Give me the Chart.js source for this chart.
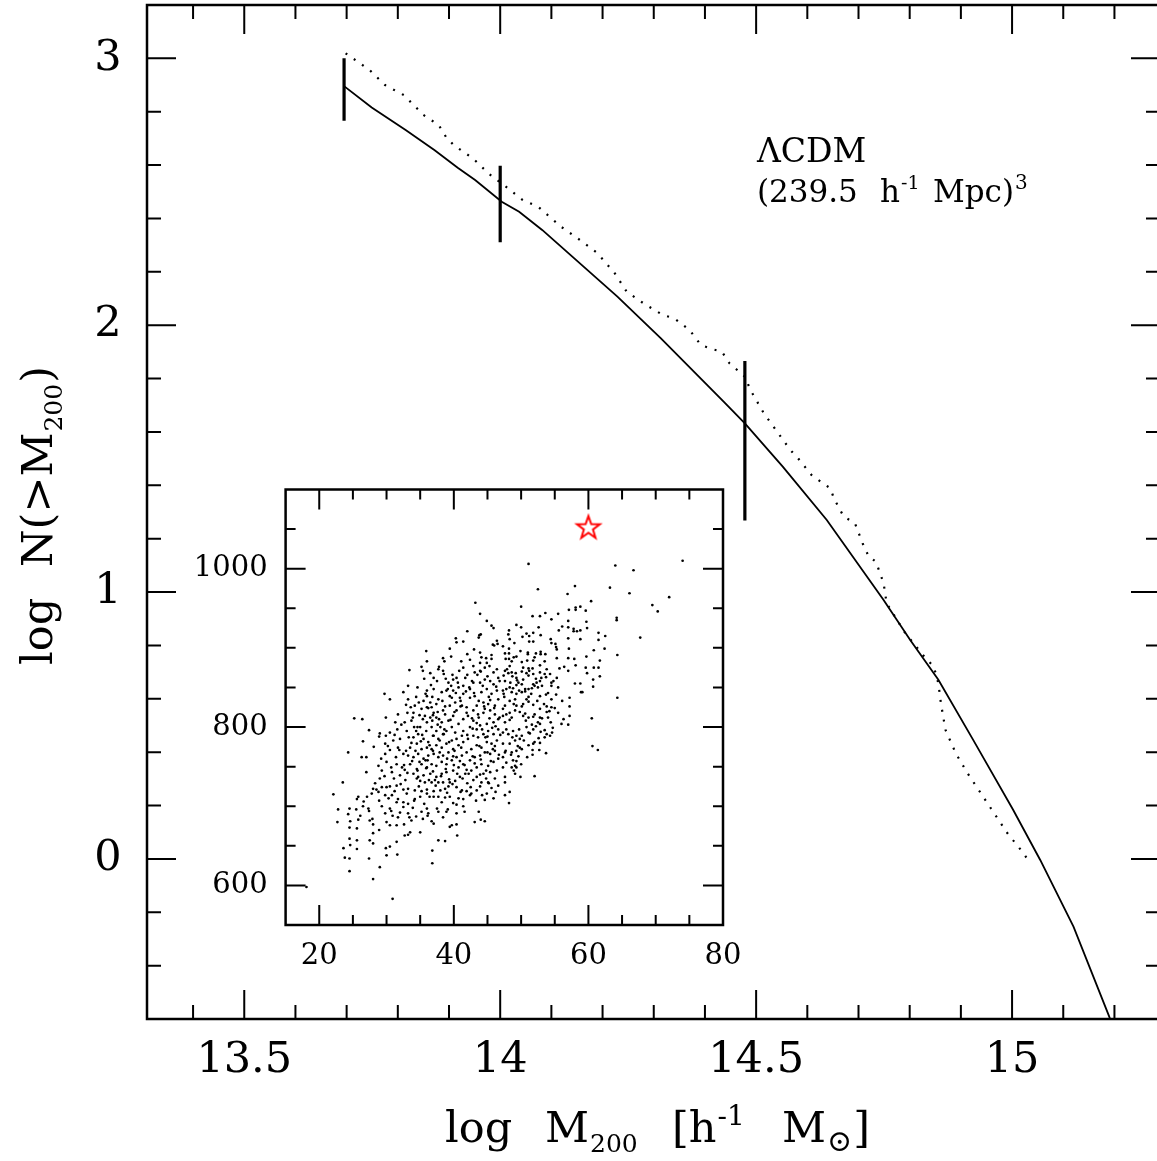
<!DOCTYPE html>
<html>
<head>
<meta charset="utf-8">
<script src="https://cdn.jsdelivr.net/npm/chart.js@4/dist/chart.umd.min.js"></script>
<style>
  html, body { margin: 0; padding: 0; background: #fff; overflow: hidden; }
  #wrap { position: relative; width: 1170px; height: 1161px; }
  #wrap canvas { position: absolute; left: 0; top: 0; }
</style>
</head>
<body>
<div id="wrap">
  <canvas id="main" width="1170" height="1161"></canvas>
  <canvas id="inset" width="1170" height="1161"></canvas>
</div>
<script>
// main panel: cumulative mass function
const massSolid = [13.695, 13.749, 13.816, 13.872, 13.917, 13.951, 14.003, 14.037, 14.082, 14.142,
  14.229, 14.314, 14.437, 14.478, 14.552, 14.638, 14.749, 14.801, 14.856, 14.924, 15.002, 15.055, 15.120, 15.191];
const logNSolid = [2.896, 2.816, 2.731, 2.656, 2.590, 2.544, 2.463, 2.425, 2.357, 2.255,
  2.107, 1.951, 1.713, 1.632, 1.470, 1.270, 0.970, 0.820, 0.671, 0.446, 0.184, -0.004, -0.254, -0.597];

const massDotted = [13.698, 13.745, 13.775, 13.812, 13.850, 13.880, 13.894, 13.909, 13.947, 13.977,
  14.011, 14.044, 14.074, 14.119, 14.156, 14.190, 14.224, 14.247, 14.280, 14.318, 14.340, 14.370,
  14.392, 14.415, 14.433, 14.448, 14.463, 14.478, 14.489, 14.515, 14.541, 14.567, 14.582, 14.608,
  14.630, 14.645, 14.652, 14.671, 14.693, 14.708, 14.720, 14.734, 14.749, 14.755, 14.790, 14.831,
  14.847, 14.856, 14.861, 14.870, 14.890, 14.913, 14.939, 14.965, 14.991, 15.017, 15.030];
const logNDotted = [3.019, 2.956, 2.900, 2.862, 2.788, 2.750, 2.706, 2.675, 2.625, 2.569,
  2.519, 2.469, 2.444, 2.369, 2.319, 2.270, 2.194, 2.126, 2.082, 2.038, 2.026, 1.982,
  1.926, 1.910, 1.901, 1.857, 1.832, 1.807, 1.757, 1.670, 1.601, 1.532, 1.501, 1.439,
  1.408, 1.389, 1.351, 1.283, 1.258, 1.183, 1.133, 1.114, 1.033, 0.958, 0.850, 0.752,
  0.721, 0.658, 0.583, 0.483, 0.396, 0.321, 0.246, 0.171, 0.096, 0.034, 0.000];

const errMass = [13.695, 14.0, 14.478];
const errLow = [2.766, 2.311, 1.268];
const errHigh = [3.0, 2.598, 1.866];

const xTickLabels = ['13.5', '14', '14.5', '15'];
const yTickLabels = ['0', '1', '2', '3'];

// inset: scatter cloud + highlighted object
const cloud = [
  [43.2,957],[43.9,943],[44.9,934],[45.6,928],[45.9,925],[42.0,921],[40.3,912],[40.4,907],[41.4,908],[43.8,916],
  [44.0,917],[43.7,913],[46.4,909],[46.5,905],[45.8,904],[46.0,903],[35.9,896],[43.0,898],[39.4,899],[42.0,892],
  [43.9,894],[45.6,891],[38.4,887],[39.6,889],[38.6,883],[36.0,883],[41.1,883],[42.4,885],[44.1,888],[44.8,887],
  [45.6,886],[43.9,881],[44.9,881],
  [51.1,1006],[64.0,1004],[66.7,998],[74.0,1010],[52.5,974],[58.0,978],[63.2,976],[56.9,968],[66.1,969],[72.0,964],
  [50.0,952],[60.4,959],[69.5,954],[70.3,946],[58.1,951],[58.8,952],[58.1,948],[57.1,948],[59.6,947],[51.7,940],
  [52.8,940],[53.6,944],[55.5,943],[54.5,936],[64.2,938],[64.2,935],[57.0,934],[59.7,933],[49.3,929],[50.0,926],
  [52.6,926],[56.1,927],[57.0,926],[57.8,924],[57.8,921],[58.3,921],[58.8,922],[59.8,925],[55.6,922],[48.2,922],
  [48.1,917],[50.8,918],[51.2,915],[51.8,919],[52.9,916],[50.2,914],[61.5,919],[62.5,915],[61.5,910],[67.7,913],
  [57.0,912],[58.8,911],[48.3,911],[49.0,906],[51.2,908],[51.8,908],[54.4,911],[54.5,906],[55.1,905],[47.3,902],
  [48.2,899],[55.2,901],[55.3,898],[57.1,899],[60.8,897],[62.4,899],[64.3,891],[47.6,893],[48.2,893],[49.9,896],
  [51.0,894],[51.0,892],[52.2,893],[52.9,895],[52.9,892],[53.6,892],[49.3,889],[47.7,886],[48.2,886],[48.9,888],
  [52.0,888],[51.8,884],[55.3,887],[57.0,887],[57.9,886],[59.7,889],[48.6,883],[50.1,882],[50.9,884],[53.5,883],
  [61.7,884],
  [48.3,877],[51.1,874],[51.7,874],[52.8,878],[53.8,873],[55.7,874],[56.4,876],[57.0,871],[58.1,878],[59.6,875],
  [60.8,875],[61.5,875],[59.8,868],[61.7,864],[60.7,860],[58.0,855],[58.8,855],[58.9,844],[59.1,844],[60.7,851],
  [64.3,837],[47.6,871],[48.1,868],[47.4,865],[48.6,869],[49.3,862],[49.4,859],[50.1,870],[50.3,860],[51.1,865],
  [50.8,868],[51.8,867],[52.8,869],[53.5,867],[53.7,863],[54.3,867],[54.5,856],[54.5,852],[54.8,858],[55.3,862],
  [55.5,850],[52.8,858],[53.0,862],[52.3,856],[51.8,854],[52.0,852],[52.5,850],[51.6,849],[51.1,848],[50.1,854],
  [49.3,853],[48.8,849],[48.3,850],[47.6,858],[47.3,846],[47.4,842],[47.8,848],[48.6,844],[49.3,842],[49.7,846],
  [50.1,844],[50.6,845],[51.1,838],[50.8,835],[52.8,839],[53.7,841],[54.5,835],[55.2,841],[56.1,833],[57.2,837],
  [57.2,826],[54.5,825],[53.8,826],[52.8,823],[51.8,828],[51.1,832],[50.3,829],[49.3,827],[49.1,835],[48.3,833],
  [47.6,827],[47.3,823],[47.8,816],[48.3,818],[49.1,821],[50.1,826],[50.6,817],[50.3,814],[51.1,812],[51.8,813],
  [52.0,816],[52.8,812],[53.8,819],[54.0,812],[55.5,818],[56.3,810],[57.2,814],[56.0,804],[57.0,803],[60.5,811],
  [48.6,812],[47.3,814],[47.6,806],[48.3,809],[47.8,797],[47.3,793],[48.1,791],[48.8,795],[49.3,789],[49.8,785],
  [50.1,789],[50.8,800],[51.1,793],[51.8,797],[52.5,806],[52.8,804],[53.8,791],[53.5,787],[54.3,789],[54.7,799],
  [54.6,793],[52.0,781],[51.8,779],[51.1,777],[49.8,774],[49.1,783],[48.3,779],[47.3,779],[47.6,768],[48.6,768],
  [49.3,770],[50.1,772],[52.8,780],[52.7,771],[53.7,767],[51.7,765],[60.6,776],[61.4,771],[47.3,762],[48.8,758],
  [49.3,757],[49.1,751],[48.6,749],[49.3,749],[47.3,749],[47.6,737],[49.1,741],[49.9,737],[52.0,738],[47.6,730],
  [25.2,811],[26.4,810],[29.9,812],[27.4,796],[26.5,782],[24.3,768],[26.3,762],[27.0,762],[28.1,775],[27.0,743],
  [23.5,730],[28.9,788],[29.0,792],[29.7,842],[30.5,835],[32.5,844],[33.2,852],[33.4,872],[35.2,876],[35.4,871],
  [34.4,838],[33.2,835],[31.7,816],[31.6,797],[30.5,793],[29.9,789],[29.8,779],[31.0,783],[30.5,771],[29.8,766],
  [28.8,751],[29.3,745],[30.0,756],[30.8,743],[31.5,753],[32.0,739],[32.7,746],[33.5,753],[32.5,766],[31.7,774],
  [32.0,785],[33.0,795],[32.7,806],[33.7,808],[34.0,818],[34.2,827],[35.2,823],[35.5,833],[36.0,846],[36.0,839],
  [37.0,848],[37.0,862],[37.7,873],[37.8,876],[38.4,871],[38.5,867],[39.2,856],[39.9,860],[40.4,862],[41.4,875],
  [42.9,877],[43.1,869],[43.9,871],[44.6,875],[45.3,877],[45.9,869],[46.4,873],[46.6,862],[45.9,854],[45.4,858],
  [44.6,860],[43.9,856],[42.9,856],[42.4,848],[41.4,852],[40.7,850],[39.9,846],[39.4,839],[38.9,846],[38.2,844],
  [37.7,835],[37.4,829],[36.7,825],[36.5,831],[36.0,825],[37.0,818],[35.7,814],[36.5,812],[37.4,812],[38.4,821],
  [38.7,816],[39.4,827],[40.2,831],[40.9,837],[41.4,842],[42.4,837],[43.1,839],[44.1,844],[44.9,848],[45.6,842],
  [46.4,846],[46.6,835],[46.1,827],[45.1,829],[44.4,831],[43.4,827],[42.9,821],[41.9,825],[41.2,827],[40.4,821],
  [39.9,814],[39.2,808],[38.2,806],[38.0,800],[37.4,795],[36.7,800],[36.0,806],[35.0,800],[34.7,791],[35.5,785],
  [36.2,781],[37.0,789],[37.7,785],[38.4,791],[38.9,795],[39.7,800],[40.2,793],[40.7,804],[41.4,810],[42.1,814],
  [42.9,808],[43.6,816],[44.4,818],[45.4,821],[46.1,816],[46.6,810],[45.9,806],[44.9,804],[43.9,802],[43.4,797],
  [42.4,800],[41.4,795],[41.2,789],[40.4,785],[39.7,783],[38.9,779],[38.2,774],[37.4,777],[36.7,772],[36.0,774],
  [35.2,772],[34.5,779],[34.0,787],[33.5,774],[33.2,764],[34.0,762],[34.7,766],[35.5,760],[36.2,764],[37.0,766],
  [37.7,762],[38.4,764],[39.2,768],[39.9,772],[40.7,777],[41.4,781],[42.1,785],[42.9,789],[43.6,787],[44.4,791],
  [45.1,795],[45.9,791],[46.6,797],[46.4,783],[45.6,779],[44.9,781],[44.1,774],[43.4,777],[42.6,772],[41.9,768],
  [41.2,764],[40.4,762],[39.7,758],[38.9,753],[38.2,756],[37.4,751],[36.7,753],[36.0,749],[35.2,753],[34.5,747],
  [34.0,741],[34.7,737],[35.5,739],[36.5,741],[37.4,737],[38.2,741],[38.9,743],[39.9,745],[40.7,749],[41.4,753],
  [42.4,758],[43.1,762],[43.9,764],[44.6,768],[45.4,766],[46.1,770],[46.6,760],[45.9,756],[45.1,751],[44.1,753],
  [43.4,749],[42.6,745],[41.7,741],[40.9,737],[40.2,732],[39.4,730],[38.4,730],[37.7,730],[36.7,730],[35.7,730],
  [35.0,732],[43.4,737],[44.4,741],[45.4,743],[46.4,745],[46.1,735],[45.1,730],[44.1,730],
  [22.1,715],[22.8,696],[24.5,697],[25.5,696],[25.6,709],[25.8,712],[26.5,700],[27.1,712],[27.3,697],[27.4,694],
  [22.7,680],[24.3,690],[24.6,681],[25.8,683],[26.1,688],[27.5,682],[27.9,684],[28.0,677],[24.5,673],[25.6,672],
  [28.9,670],[28.0,666],[24.5,659],[24.6,651],[25.6,657],[25.6,646],[27.5,657],[28.0,653],[23.6,647],[23.8,635],
  [24.5,634],[24.5,618],[27.4,634],[28.0,608],[29.0,623],[29.9,647],[30.5,649],[30.0,638],[31.5,655],[31.6,639],
  [30.9,583],[32.7,663],[33.2,664],[33.5,667],[35.0,667],[36.8,644],[36.8,628],[37.7,657],[38.7,656],[39.4,674],
  [39.7,676],[40.4,677],[40.5,663],[43.1,680],[44.0,683],[44.6,681],[29.8,691],[30.0,680],[30.5,676],[31.5,676],
  [30.5,697],[30.7,694],[31.5,705],[31.7,686],[32.5,699],[32.6,677],[33.2,691],[33.4,686],[34.4,687],[35.2,693],
  [36.0,697],[36.2,691],[36.1,688],[36.7,681],[37.0,678],[37.7,693],[38.9,693],[40.4,691],[41.4,700],[39.9,704],
  [40.4,702],[39.4,712],[38.7,711],[37.7,712],[37.0,712],[36.0,716],[35.0,712],[34.2,709],[34.1,707],[33.2,703],
  [32.5,705],[31.7,709],[30.8,714],[29.8,714],[28.9,707],[28.8,718],[28.0,722],[28.5,721],[29.3,724],[30.0,724],
  [30.5,725],[31.5,726],[32.5,721],[33.2,722],[34.2,720],[35.2,719],[36.0,721],[37.0,719],[38.0,720],[38.7,722],
  [39.2,725],[40.4,724],[41.2,720],[41.9,719],[42.6,716],[43.4,720],[43.9,725],[44.9,716],[45.6,723],[46.6,726],
  [44.6,708],[41.4,709],[42.4,714],
  [47.6,714],[48.3,718],[48.2,704],[18.1,598],
  // denser core, estimated where single dots could not be separated
  [34.6,745],[35.8,758],[36.9,770],[37.9,783],[38.6,797],[39.5,809],[40.1,819],[41.0,833],[41.8,845],[42.7,858],
  [43.5,866],[44.3,852],[45.2,838],[46.0,824],[46.8,812],[45.7,799],[44.7,787],[43.8,776],[42.8,763],[41.6,752],
  [40.5,741],[39.3,734],[38.1,738],[36.9,744],[35.9,748],[34.9,756],[34.3,770],[35.1,782],[35.9,795],[36.8,808],
  [37.6,819],[38.3,833],[39.1,848],[39.8,866],[40.8,871],[41.7,862],[42.3,850],[43.0,843],[43.7,833],[44.6,823],
  [45.3,811],[46.2,801],[46.9,790],[46.1,776],[45.0,768],[44.0,759],[43.1,754],[42.2,741],[41.3,735],[40.0,752],
  [39.0,760],[37.9,768],[36.4,777],[35.3,790],[34.6,800],[33.9,812],[34.8,831],[35.8,842],[36.6,853],[37.5,858],
  [38.8,861],[39.6,852],[40.3,843],[41.0,826],[41.9,818],[42.7,811],[43.4,805],[44.2,797],[45.0,788],[45.8,772],
  [46.7,765],[45.5,757],[44.8,745],[43.9,740],[42.9,733],[41.9,746],[40.9,757],[40.1,770],[39.3,781],[38.5,791],
  [37.6,803],[36.9,815],[36.2,824],[35.4,810],[34.4,795],[33.7,780],[32.9,770],[33.8,757],[32.6,752],[33.1,742],
  [37.2,733],[38.8,747],[39.9,763],[41.1,774],[42.0,790],[42.8,798],[43.7,812],[44.5,826],[45.4,834],[46.3,851],
  [46.8,858],[45.0,864],[44.0,870],[42.0,866],[40.6,856],[39.7,837],[38.7,826],[37.8,810],[36.9,789],[36.1,758],
  [47.9,873],[48.7,864],[49.6,856],[50.6,848],[51.5,842],[52.4,833],[53.4,829],[54.2,820],[53.1,811],[52.2,801],
  [51.3,792],[50.4,783],[49.5,776],[48.5,765],[47.8,755],[48.9,745],[50.0,753],[50.9,762],[51.7,771],[52.6,786],
  [53.5,796],[54.4,806],[55.0,824],[54.0,843],[53.1,852],[52.2,861],[51.2,871],[50.3,875],[49.2,868],[48.4,856],
  [47.5,838],[48.9,829],[49.8,819],[50.7,808],[51.6,803],[52.9,794],[49.7,797],[48.7,787],[47.7,770],[49.6,763],
  [29.3,700],[30.3,710],[31.2,719],[32.1,728],[33.0,716],[33.9,698],[34.8,725],[35.6,703],[36.4,712],[37.3,726],
  [38.2,705],[39.0,717],[39.8,728],[40.7,710],[41.6,693],[42.5,724],[43.3,707],[44.2,714],[45.2,729],[46.2,718],
  [30.9,688],[32.0,692],[33.7,682],[35.4,684],[37.5,697],[38.4,686],[39.1,696],[41.0,718],[43.7,693],[45.9,710],
  [26.6,706],[27.8,716],[28.3,729],[29.0,735],[31.1,735],[32.8,733],[34.5,735],[36.3,733],[42.0,729],[44.8,735],
  [29.2,760],[30.2,776],[31.2,790],[32.2,803],[33.1,818],[31.4,762],[32.3,749],[30.7,749],[29.7,738],[31.9,771],
  [33.3,787],[34.1,800],[32.9,828],[34.6,850],[35.6,861],[36.5,868],[36.8,838],[34.9,815],[33.6,825],[31.3,806]
];
const starX = [60];
const starY = [1052];

const insetXLabels = ['20', '40', '60', '80'];
const insetYLabels = ['600', '800', '1000'];

const SERIF = '"DejaVu Serif", "Liberation Serif", serif';

function stepsBetween(lo, hi, step) {
  const out = [];
  for (let k = Math.ceil(lo / step - 1e-6); k * step <= hi + 1e-9; k++) {
    const v = +(k * step).toFixed(6);
    if (v > lo + 1e-9 && v < hi - 1e-9) out.push(v);
  }
  return out;
}

// boxed frame with inward ticks on all four sides, plus numeric labels
function frameTicks(opts) {
  return {
    id: 'frameTicks',
    beforeDatasetsDraw(chart) {
      if (!opts.fill) return;
      const a = chart.chartArea, ctx = chart.ctx;
      ctx.save();
      ctx.fillStyle = '#fff';
      ctx.fillRect(a.left, a.top, a.right - a.left, a.bottom - a.top);
      ctx.restore();
    },
    afterDraw(chart) {
      const { ctx, chartArea: a, scales: { x, y } } = chart;
      const xMaj = opts.xLabels.map(Number), yMaj = opts.yLabels.map(Number);
      ctx.save();
      ctx.strokeStyle = '#000';
      ctx.lineWidth = opts.tickWidth;
      ctx.beginPath();
      for (const v of stepsBetween(x.min, x.max, opts.xStep)) {
        const px = x.getPixelForValue(v);
        const len = xMaj.some(m => Math.abs(m - v) < opts.xStep / 10) ? opts.major : opts.minor;
        ctx.moveTo(px, a.bottom); ctx.lineTo(px, a.bottom - len);
        ctx.moveTo(px, a.top); ctx.lineTo(px, a.top + len);
      }
      for (const v of stepsBetween(y.min, y.max, opts.yStep)) {
        const py = y.getPixelForValue(v);
        const len = yMaj.some(m => Math.abs(m - v) < opts.yStep / 10) ? opts.major : opts.minor;
        ctx.moveTo(a.left, py); ctx.lineTo(a.left + len, py);
        ctx.moveTo(a.right, py); ctx.lineTo(a.right - len, py);
      }
      ctx.stroke();
      ctx.lineWidth = opts.frameWidth;
      ctx.strokeRect(a.left, a.top, a.right - a.left, a.bottom - a.top);

      ctx.fillStyle = '#000';
      ctx.font = opts.labelSize + 'px ' + SERIF;
      ctx.textBaseline = 'middle';
      ctx.textAlign = 'center';
      opts.xLabels.forEach(t => ctx.fillText(t, x.getPixelForValue(Number(t)), a.bottom + opts.xLabelGap));
      ctx.textAlign = opts.yAlign;
      opts.yLabels.forEach(t => ctx.fillText(t, a.left - opts.yLabelGap, y.getPixelForValue(Number(t))));
      if (opts.extra) opts.extra(ctx, a);
      ctx.restore();
    }
  };
}

// text with sub/superscripts: [text, offset (null = right after previous), size, shift]
function drawRuns(ctx, x0, y0, runs) {
  ctx.textAlign = 'left';
  ctx.textBaseline = 'alphabetic';
  let cur = 0;
  for (const [t, dx, size, dy] of runs) {
    ctx.font = size + 'px ' + SERIF;
    const at = dx === null ? cur + 1 : dx;
    ctx.fillText(t, x0 + at, y0 + dy);
    cur = at + ctx.measureText(t).width;
  }
}

function mainTexts(ctx, a) {
  drawRuns(ctx, 445, 1142, [
    ['log', 0, 43, 0], ['M', 100, 43, 0], ['200', null, 25, 10],
    ['[h', 227, 43, 0], ['-1', null, 28, -17], ['M', 337, 43, 0], ['\u2299', null, 30, 9], [']', null, 43, 0]
  ]);
  ctx.save();
  ctx.translate(52, 665);
  ctx.rotate(-Math.PI / 2);
  drawRuns(ctx, 0, 0, [
    ['log', 0, 43, 0], ['N(>M', 98, 43, 0], ['200', null, 25, 10], [')', null, 43, 0]
  ]);
  ctx.restore();
  drawRuns(ctx, 757, 162, [['\u039BCDM', 0, 33, 0]]);
  drawRuns(ctx, 757, 202, [
    ['(239.5', 0, 31, 0], ['h', 123, 31, 0], ['-1', null, 19, -13], ['Mpc)', 176, 31, 0], ['3', null, 20, -13]
  ]);
}

const xy = (xs, ys) => xs.map((v, i) => ({ x: v, y: ys[i] }));
const errSegments = [];
errMass.forEach((m, i) => {
  errSegments.push({ x: m, y: errLow[i] }, { x: m, y: errHigh[i] }, { x: m, y: null });
});

new Chart(document.getElementById('main'), {
  type: 'line',
  data: {
    datasets: [
      { data: xy(massSolid, logNSolid), borderColor: '#000', borderWidth: 1.8 },
      { data: xy(massDotted, logNDotted), borderColor: '#000', borderWidth: 2.2, borderDash: [2, 8] },
      { data: errSegments, borderColor: '#000', borderWidth: 3.2, spanGaps: false }
    ]
  },
  options: {
    responsive: false,
    animation: false,
    devicePixelRatio: 1,
    layout: { padding: { left: 147, right: 10, top: 5, bottom: 142 } },
    elements: { point: { radius: 0 }, line: { tension: 0 } },
    plugins: { legend: { display: false }, tooltip: { enabled: false } },
    scales: {
      x: { type: 'linear', min: 13.31, max: 15.289, display: false },
      y: { type: 'linear', min: -0.6, max: 3.2, display: false }
    }
  },
  plugins: [frameTicks({
    xLabels: xTickLabels, yLabels: yTickLabels, xStep: 0.1, yStep: 0.2,
    minor: 14, major: 29, tickWidth: 2, frameWidth: 2.5,
    labelSize: 43, xLabelGap: 42, yLabelGap: 39, yAlign: 'center', extra: mainTexts
  })]
});

// open red star marker
const starImg = document.createElement('canvas');
starImg.width = 30; starImg.height = 30;
(function () {
  const c = starImg.getContext('2d');
  c.beginPath();
  for (let k = 0; k < 10; k++) {
    const r = k % 2 ? 4.8 : 12, ang = -Math.PI / 2 + k * Math.PI / 5;
    const px = 15 + r * Math.cos(ang), py = 15.5 + r * Math.sin(ang);
    k ? c.lineTo(px, py) : c.moveTo(px, py);
  }
  c.closePath();
  c.strokeStyle = '#f00';
  c.lineWidth = 2;
  c.stroke();
})();

new Chart(document.getElementById('inset'), {
  type: 'scatter',
  data: {
    datasets: [
      { data: cloud.map(p => ({ x: p[0], y: p[1] })), pointRadius: 1.35, pointBackgroundColor: '#000', pointBorderWidth: 0 },
      { data: xy(starX, starY), pointStyle: starImg, pointRadius: 12 }
    ]
  },
  options: {
    responsive: false,
    animation: false,
    devicePixelRatio: 1,
    layout: { padding: { left: 285.6, right: 447, top: 489.5, bottom: 236 } },
    plugins: { legend: { display: false }, tooltip: { enabled: false } },
    scales: {
      x: { type: 'linear', min: 15, max: 80, display: false },
      y: { type: 'linear', min: 550, max: 1100, display: false }
    }
  },
  plugins: [frameTicks({
    fill: true, xLabels: insetXLabels, yLabels: insetYLabels, xStep: 5, yStep: 50,
    minor: 10, major: 20, tickWidth: 2, frameWidth: 2.5,
    labelSize: 29, xLabelGap: 31, yLabelGap: 18, yAlign: 'right'
  })]
});
</script>
</body>
</html>
